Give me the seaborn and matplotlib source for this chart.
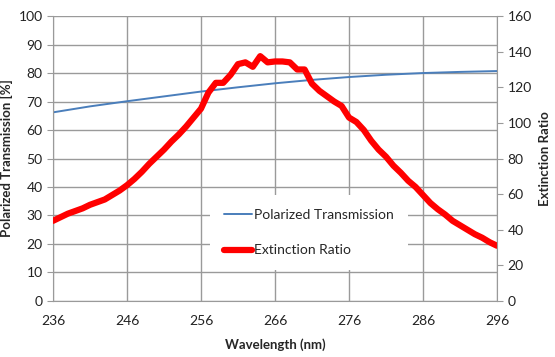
import pandas as pd
import seaborn as sns
import matplotlib.pyplot as plt

# wavelength grid (nm) and curves
wl_trans = [236, 241, 246, 251, 256, 261, 266, 271, 276, 281, 286, 291, 296]
transmission = [66.2, 68.3, 70.1, 71.8, 73.5, 75.0, 76.4, 77.6, 78.6, 79.4, 80.0, 80.4, 80.7]

wl_ext = list(range(236, 297))
extinction = [45, 47, 49, 50.5, 52, 54, 55.5, 57, 59.5, 62,
              65, 68.5, 72.5, 77, 81, 85, 89.5, 93.5, 98, 103,
              108, 117, 122.5, 122.5, 127, 133, 134, 131.5, 137.5, 134,
              134.5, 134.5, 134, 130, 130, 122, 118, 115, 112, 109.5,
              103, 100.5, 96, 90, 85, 81, 76, 72, 67.5, 64,
              59.5, 55, 51.5, 48.5, 45, 42.5, 40, 37.5, 35.5, 33, 31]

x_ticks = [236, 246, 256, 266, 276, 286, 296]

trans_df = pd.DataFrame({'Wavelength': wl_trans, 'Transmission': transmission})
ext_df = pd.DataFrame({'Wavelength': wl_ext, 'Extinction': extinction})

sns.set_style('white')
plt.rcParams['font.family'] = ['Lato', 'DejaVu Sans']

fig = plt.figure(figsize=(5.55, 3.57), dpi=100)
ax = fig.add_axes([0.0955, 0.157, 0.8, 0.798])
ax2 = ax.twinx()

sns.lineplot(data=trans_df, x='Wavelength', y='Transmission', ax=ax,
             color='#4a7ebb', linewidth=1.4, label='Polarized Transmission', legend=False)
sns.lineplot(data=ext_df, x='Wavelength', y='Extinction', ax=ax2,
             color='#ff0000', linewidth=4.5, label='Extinction Ratio', legend=False)

grid_c = '#9a9a9a'
ax.set_xlim(236, 296)
ax.set_ylim(0, 100)
ax2.set_ylim(0, 160)
ax.set_xticks(x_ticks)
ax.set_yticks(range(0, 101, 10))
ax2.set_yticks(range(0, 161, 20))
ax.grid(True, color=grid_c, linewidth=1)
ax.set_axisbelow(True)

for a in (ax, ax2):
    for s in a.spines.values():
        s.set_visible(False)
ax.spines['left'].set_visible(True)
ax.spines['bottom'].set_visible(True)
ax2.spines['right'].set_visible(True)
ax.spines['left'].set_color(grid_c)
ax.spines['bottom'].set_color(grid_c)
ax2.spines['right'].set_color(grid_c)

ax.tick_params(axis='both', labelsize=10, colors='#222222', length=4, color=grid_c, direction='out')
ax2.tick_params(axis='y', labelsize=10, colors='#222222', length=4, color=grid_c, direction='out')
ax.tick_params(axis='x', pad=6)

ax.set_xlabel('Wavelength (nm)', fontsize=9.5, fontweight='bold', labelpad=8)
ax.set_ylabel('Polarized Transmission [%]', fontsize=9.5, fontweight='bold', labelpad=4)
ax2.set_ylabel('Extinction Ratio', fontsize=9.5, fontweight='bold', labelpad=5)

h1, l1 = ax.get_legend_handles_labels()
h2, l2 = ax2.get_legend_handles_labels()
leg = ax2.legend(h1 + h2, l1 + l2, loc='center left', bbox_to_anchor=(0.338, 0.24),
                 frameon=True, facecolor='white', edgecolor='none', framealpha=1,
                 fontsize=10, labelspacing=1.7, handlelength=2.0, handletextpad=0.2,
                 borderpad=1.0, fancybox=False)

fig.savefig('out.png', dpi=100)
